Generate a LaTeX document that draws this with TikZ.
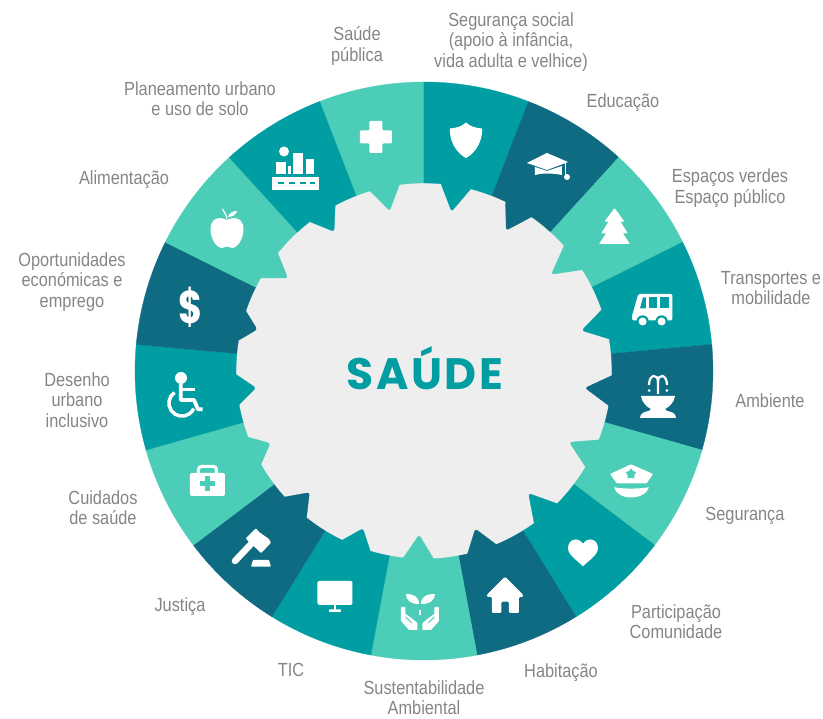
\documentclass[tikz,border=0pt]{standalone}
\usepackage{fontspec}
\setmainfont[FakeStretch=0.86]{Liberation Sans}
\newfontfamily\titlefont[LetterSpace=6]{Poppins}
\newfontfamily\iconfont[FakeStretch=0.8]{Poppins}
\usetikzlibrary{shapes.geometric}
\definecolor{mylight}{HTML}{4BCDB7}
\definecolor{myteal}{HTML}{009EA2}
\definecolor{mydark}{HTML}{0F6B82}
\definecolor{mygray}{HTML}{EEEEEE}
\definecolor{mytext}{HTML}{858585}
% colour, start angle, tooth angle, tooth radius
\newcommand{\mysector}[4]{
  \filldraw[#1, line width=.3pt] (#2:289) arc[start angle=#2, delta angle=-21.18, radius=289]
    -- ({#2-21.18}:188) arc[start angle={#2-21.18}, end angle={#3-4.6}, radius=188]
    -- ({#3-4.6}:188) [rounded corners=2.5pt] -- (#3:#4) [sharp corners] -- ({#3+4.6}:188)
    arc[start angle={#3+4.6}, end angle=#2, radius=188] -- cycle;
}

\begin{document}
\begin{tikzpicture}[x=1pt, y=1pt]
  \tikzset{mylabel/.style={text=mytext, align=center, inner sep=0pt, yshift=-2pt, font=\fontsize{19}{20.3}\selectfont}};
  \tikzset{myicon/.style={fill=white, draw=none}};
  \useasboundingbox (-424,-348) rectangle (399,371);

  \fill[mygray] (0,0) circle (189);
  \mysector{mylight}{111.18}{102.1}{164}
  \mysector{myteal}{90}{80.2}{162}
  \mysector{mydark}{68.82}{59.7}{163}
  \mysector{mylight}{47.65}{37.2}{160}
  \mysector{myteal}{26.47}{14.4}{163}
  \mysector{mydark}{5.29}{-6}{162}
  \mysector{mylight}{-15.88}{-26.1}{162}
  \mysector{myteal}{-37.06}{-49.5}{161}
  \mysector{mydark}{-58.24}{-72}{166}
  \mysector{mylight}{-79.41}{-91.7}{164}
  \mysector{myteal}{-100.59}{-111.2}{169}
  \mysector{mydark}{-121.76}{-133.3}{167}
  \mysector{mylight}{-142.94}{-154.8}{170}
  \mysector{myteal}{-164.12}{-174.3}{169}
  \mysector{mydark}{-185.29}{-194}{172}
  \mysector{mylight}{-206.47}{-214.3}{165}
  \mysector{myteal}{-227.65}{-237.2}{166}

  \node[text=myteal, font=\titlefont\bfseries\fontsize{44}{44}\selectfont] (saude) at (1,3) {SAÚDE};

  % labels
  \node[mylabel] (publica) at (-67,327) {Saúde\\pública};
  \node[mylabel] (social) at (87,331) {Segurança social\\(apoio à infância,\\vida adulta e velhice)};
  \node[mylabel] (educacao) at (199,270) {Educação};
  \node[mylabel] (verdes) at (306,185) {Espaços verdes\\Espaço público};
  \node[mylabel] (transportes) at (347,85) {Transportes e\\mobilidade};
  \node[mylabel] (ambiente) at (346,-28) {Ambiente};
  \node[mylabel] (seguranca) at (321,-143) {Segurança};
  \node[mylabel] (participacao) at (252,-249) {Participação\\Comunidade};
  \node[mylabel] (habitacao) at (137,-300) {Habitação};
  \node[mylabel] (sustentabilidade) at (0,-325) {Sustentabilidade\\Ambiental};
  \node[mylabel] (tic) at (-133,-297) {TIC};
  \node[mylabel] (justica) at (-244,-234) {Justiça};
  \node[mylabel] (cuidados) at (-321,-135) {Cuidados\\de saúde};
  \node[mylabel] (desenho) at (-347,-27) {Desenho\\urbano\\inclusivo};
  \node[mylabel] (oportunidades) at (-352,91) {Oportunidades\\económicas e\\emprego};
  \node[mylabel] (alimentacao) at (-300,193) {Alimentação};
  \node[mylabel] (planeamento) at (-224,274) {Planeamento urbano\\e uso de solo};

  % icons
  \begin{scope}[shift={(-48,234)}] % cross
    \fill[myicon, rounded corners=1pt] (-6.5,16) -- (6.5,16) -- (6.5,6.5) -- (16,6.5) -- (16,-6.5) -- (6.5,-6.5)
      -- (6.5,-16) -- (-6.5,-16) -- (-6.5,-6.5) -- (-16,-6.5) -- (-16,6.5) -- (-6.5,6.5) -- cycle;
  \end{scope}
  \begin{scope}[shift={(42,231)}] % shield
    \fill[myicon] (0,17.5) .. controls (4,13.5) and (10,12) .. (16,11.5) .. controls (17,0) and (10,-13) .. (0,-18)
      .. controls (-10,-13) and (-17,0) .. (-16,11.5) .. controls (-10,12) and (-4,13.5) .. (0,17.5) -- cycle;
  \end{scope}
  \begin{scope}[shift={(123,206)}] % graduation cap
    \fill[myicon] (-20,2) -- (0,12) -- (21,3) -- (0,-5) -- cycle;
    \fill[myicon] (-12,-2) -- (0,-6) -- (15,-1) -- (15,-10) .. controls (5,-8) and (-5,-8) .. (-12,-10) -- cycle;
    \draw[white, line width=1.3pt] (18.5,2) -- (18.5,-10);
    \fill[myicon] (20,-12) circle (3);
  \end{scope}
  \begin{scope}[shift={(190.5,145)}] % tree
    \fill[myicon, rounded corners=.7pt] (0,18) -- (-10,4.3) -- (-6,4.3) -- (-13.3,-7.3) -- (-8.3,-7.3) -- (-15.5,-18)
      -- (15.5,-18) -- (8.3,-7.3) -- (13.3,-7.3) -- (6,4.3) -- (10,4.3) -- cycle;
  \end{scope}
  \begin{scope}[shift={(228,64)}] % bus
    \fill[myicon, rounded corners=1.5pt] (-20,-13.5) -- (-20,-9) -- (-13.7,13) -- (20.3,13) -- (20.3,-13.5) -- cycle;
    \fill[myteal] (-12,-1.3) -- (-9,9.7) -- (-6,9.7) -- (-6,-1.3) -- cycle;
    \fill[myteal] (-3,-1.3) rectangle (5,9.7);
    \fill[myteal] (8,-1.3) rectangle (17,9.7);
    \fill[myteal] (-9.4,-14.5) circle (6.2);
    \fill[myteal] (9.6,-14.5) circle (6.2);
    \fill[myicon] (-9.4,-14.5) circle (4);
    \fill[myicon] (9.6,-14.5) circle (4);
  \end{scope}
  \begin{scope}[shift={(234,-25)}] % fountain
    \fill[myicon] (-17,0) -- (17,0) .. controls (16,-7) and (11,-11) .. (7,-13) -- (9,-15) .. controls (13,-15.5) and (18,-17) .. (18,-22)
      -- (-18,-22) .. controls (-18,-17) and (-13,-15.5) .. (-9,-15) -- (-7,-13) .. controls (-11,-11) and (-16,-7) .. (-17,0) -- cycle;
    \draw[white, line width=2.2pt] (-9,11) .. controls (-9,22) and (0,23) .. (0,14) -- (0,2);
    \draw[white, line width=2.2pt] (9,11) .. controls (9,22) and (0,23) .. (0,14);
    \fill[myicon] (-8.8,5.5) circle (1.5);
    \fill[myicon] (8.8,5.5) circle (1.5);
  \end{scope}
  \begin{scope}[shift={(207,-110)}] % police cap
    \fill[myicon, rounded corners=.7pt] (-21,7) -- (0,16.7) -- (22,7) -- (15.7,-2.3) -- (-14.3,-2.3) -- cycle;
    \node[star, star points=5, fill=mylight, inner sep=0pt, minimum size=11pt] (capstar) at (0,7) {};
    \fill[myicon] (-17,-6.3) .. controls (-6,-8) and (6,-8) .. (18,-6.3) .. controls (16,-13) and (8,-16.5) .. (0,-16.5)
      .. controls (-8,-16.5) and (-15,-13) .. (-17,-6.3) -- cycle;
  \end{scope}
  \begin{scope}[shift={(159,-182)}] % heart
    \fill[myicon] (0,-13.5) .. controls (-6,-7) and (-15,-2) .. (-15,5) .. controls (-15,10.5) and (-11,13.5) .. (-7.5,13.5)
      .. controls (-4,13.5) and (-1.5,11.5) .. (0,9.5) .. controls (1.5,11.5) and (4,13.5) .. (7.5,13.5)
      .. controls (11,13.5) and (15,10.5) .. (15,5) .. controls (15,-2) and (6,-7) .. (0,-13.5) -- cycle;
  \end{scope}
  \begin{scope}[shift={(81,-224)}] % house
    \fill[myicon, rounded corners=1.2pt] (0,18.3) -- (-18,0.5) -- (-18,-2) -- (-13,-2) -- (-13,-18) -- (-3.7,-18) -- (-3.7,-6.7)
      -- (4,-6.7) -- (4,-18) -- (14,-18) -- (14,-2) -- (18,-2) -- (18,0.5) -- cycle;
  \end{scope}
  \begin{scope}[shift={(-4,-241)}] % hands and plant
    \fill[myicon] (-1,8) .. controls (-10,8) and (-14,12) .. (-14,18) .. controls (-6,18) and (-1,15) .. (-1,8) -- cycle;
    \fill[myicon] (1,8) .. controls (10,8) and (15,12) .. (15,18) .. controls (6,18) and (1,15) .. (1,8) -- cycle;
    \fill[myicon] (-.6,2) rectangle (.6,-3);
    \fill[myicon, rounded corners=.7pt] (-19,5) -- (-14.5,5) -- (-14.5,-2) -- (-10,-5) -- (-2.5,-11) -- (-2.5,-18) -- (-11,-18)
      -- (-19,-9) -- cycle;
    \fill[myicon, rounded corners=.7pt] (19,5) -- (14.5,5) -- (14.5,-2) -- (10,-5) -- (2.5,-11) -- (2.5,-18) -- (11,-18)
      -- (19,-9) -- cycle;
    \draw[mylight, line width=.9pt] (-14.5,-5) -- (-8,-11);
    \draw[mylight, line width=.9pt] (14.5,-5) -- (8,-11);
  \end{scope}
  \begin{scope}[shift={(-89,-225)}] % monitor
    \fill[myicon, rounded corners=1.5pt] (-17.5,15) rectangle (17.5,-9);
    \fill[myicon] (-1,-9) rectangle (1,-14);
    \fill[myicon, rounded corners=.5pt] (-6,-13.5) rectangle (6,-16);
  \end{scope}
  \begin{scope}[shift={(-174,-174)}] % gavel
    \draw[white, line width=6.5pt, line cap=round] (-15,-16) -- (2,2);
    \fill[myicon, rounded corners=.8pt] (6,16.7) -- (9,13) -- (19,6) -- (21,2.3) -- (11,-8.3) -- (8,-5) -- (0,2) -- (-4.3,6.7) -- cycle;
    \fill[myicon, rounded corners=.8pt] (3,-15) -- (19,-15) -- (21,-21.7) -- (1,-21.7) -- cycle;
  \end{scope}
  \begin{scope}[shift={(-216.5,-110)}] % first aid kit
    \fill[myicon, rounded corners=2pt] (-17.5,8) rectangle (17.5,-15);
    \draw[white, line width=3pt, rounded corners=3pt] (-9,8) -- (-9,14.5) -- (9,14.5) -- (9,8);
    \fill[mylight] (-2.7,5) rectangle (2.7,-10);
    \fill[mylight] (-7.5,.2) rectangle (7.5,-5.2);
  \end{scope}
  \begin{scope}[shift={(-239,-26)}] % wheelchair
    \fill[myicon] (-4,19) circle (6);
    \draw[white, line width=3.8pt, line join=round] (-4.3,13) -- (-4.3,-3) -- (9,-3) -- (13,-12.3) -- (17.7,-12.3);
    \draw[white, line width=2.8pt] (-4.3,7.7) -- (10,7.7);
    \draw[white, line width=3.5pt] (-10.5,4.5) arc[start angle=125, end angle=335, radius=13];
  \end{scope}
  \node[text=white, font=\iconfont\bfseries\fontsize{46}{46}\selectfont] (dollar) at (-233,64) {\$};
  \begin{scope}[shift={(-197,143)}] % apple
    \fill[myicon] (0,8) .. controls (-4,10) and (-9,11) .. (-13,8) .. controls (-18,4) and (-17,-6) .. (-14,-12)
      .. controls (-12,-17) and (-8,-20) .. (-5,-20) .. controls (-3,-20) and (-2,-18.5) .. (0,-18.5)
      .. controls (2,-18.5) and (3,-20) .. (5,-20) .. controls (8,-20) and (12,-17) .. (14,-12)
      .. controls (17,-6) and (18,4) .. (13,8) .. controls (9,11) and (4,10) .. (0,8) -- cycle;
    \fill[myicon] (1,11) .. controls (2,15) and (6,17) .. (10,17) .. controls (9,13) and (5,11) .. (1,11) -- cycle;
    \draw[white, line width=1.2pt] (-4.5,19) .. controls (-3,16) and (-1,14) .. (0,9);
  \end{scope}
  \begin{scope}[shift={(-128.5,203)}] % city
    \fill[myicon] (-11.5,16.5) circle (5);
    \fill[myicon] (-19.5,6) rectangle (-9,-6);
    \fill[myicon] (-7,2) rectangle (-4,-6);
    \fill[myicon] (-2.5,15) rectangle (7.5,-6);
    \fill[myicon] (10.5,9) rectangle (18.5,-6);
    \fill[myicon] (-23,-9) rectangle (23.5,-22);
    \fill[myteal] (-17,-14.5) rectangle (-11.5,-16.3);
    \fill[myteal] (-6,-14.5) rectangle (-.5,-16.3);
    \fill[myteal] (5,-14.5) rectangle (10.5,-16.3);
    \fill[myteal] (15,-14.5) rectangle (20,-16.3);
  \end{scope}
\end{tikzpicture}
\end{document}
